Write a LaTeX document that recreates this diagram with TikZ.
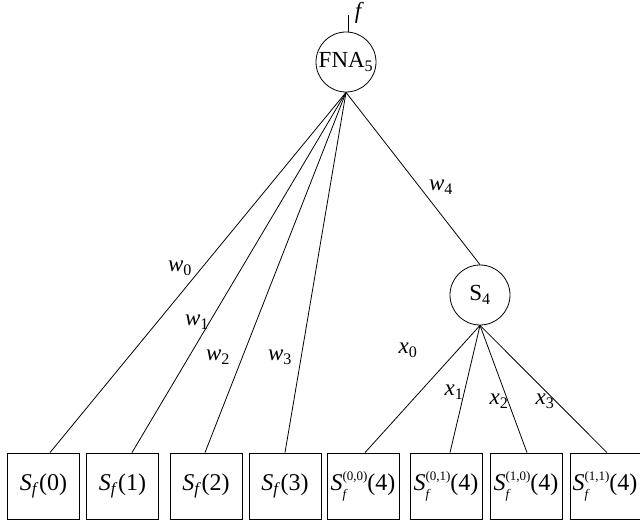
\documentclass[tikz,border=0pt]{standalone}
\usepackage{fontspec}
\setmainfont{Liberation Serif}
\usetikzlibrary{calc}
\begin{document}
\begin{tikzpicture}[x=1pt,y=-1pt,line width=0.8pt,
  neuron/.style={draw,circle,minimum size=60pt,inner sep=0pt,font=\fontsize{23}{26}\selectfont},
  leaf/.style={draw,rectangle,minimum width=72pt,minimum height=66pt,inner sep=0pt,font=\fontsize{24}{27}\selectfont},
  wlab/.style={font=\fontsize{23}{26}\selectfont\itshape,inner sep=1pt}]
\useasboundingbox (0,0) rectangle (640,521);
\node[neuron] (fna) at (346,62) {FNA\textsubscript{5}};
\node[neuron] (s4) at (480,295) {S\textsubscript{4}};
\coordinate (ftop) at (348,15);
\node[wlab] (f) at (358,13) {f};
\draw ([xshift=2pt]fna.north) -- (ftop);
\newcommand{\Sf}[1]{\textit{S}\textsubscript{\textit{f}}(#1)}
\newcommand{\Sfs}[1]{\textit{S}\raisebox{-0.3em}{\fontsize{13}{14}\selectfont\shortstack[l]{(#1)\\[3pt]\textit{f}}}(4)}
\node[leaf] (b0) at (43.5,486) {\Sf{0}};
\node[leaf] (b1) at (122.5,486) {\Sf{1}};
\node[leaf] (b2) at (206,486) {\Sf{2}};
\node[leaf] (b3) at (285,486) {\Sf{3}};
\node[leaf] (b4) at (363,486) {\Sfs{0,0}};
\node[leaf] (b5) at (446,486) {\Sfs{0,1}};
\node[leaf] (b6) at (526,486) {\Sfs{1,0}};
\node[leaf,minimum width=70pt] (b7) at (605,486) {\Sfs{1,1}};
\draw (fna.south) -- ([xshift=6.5pt]b0.north);
\draw (fna.south) -- ([xshift=9.5pt]b1.north);
\draw (fna.south) -- ([xshift=-1pt]b2.north);
\draw (fna.south) -- (b3.north);
\draw (fna.south) -- (s4.north);
\draw (s4.south) -- ([xshift=2pt]b4.north);
\draw (s4.south) -- ([xshift=4pt]b5.north);
\draw (s4.south) -- ([xshift=1pt]b6.north);
\draw (s4.south) -- ([xshift=2pt]b7.north);
\node[wlab] (w0) at (180,268) {w\textsubscript{\upshape 0}};
\node[wlab] (w1) at (197,322) {w\textsubscript{\upshape 1}};
\node[wlab] (w2) at (218,357) {w\textsubscript{\upshape 2}};
\node[wlab] (w3) at (280,357) {w\textsubscript{\upshape 3}};
\node[wlab] (w4) at (441,187) {w\textsubscript{\upshape 4}};
\node[wlab] (x0) at (408,350) {x\textsubscript{\upshape 0}};
\node[wlab] (x1) at (454,392) {x\textsubscript{\upshape 1}};
\node[wlab] (x2) at (499,401) {x\textsubscript{\upshape 2}};
\node[wlab] (x3) at (545,401) {x\textsubscript{\upshape 3}};
\end{tikzpicture}
\end{document}
